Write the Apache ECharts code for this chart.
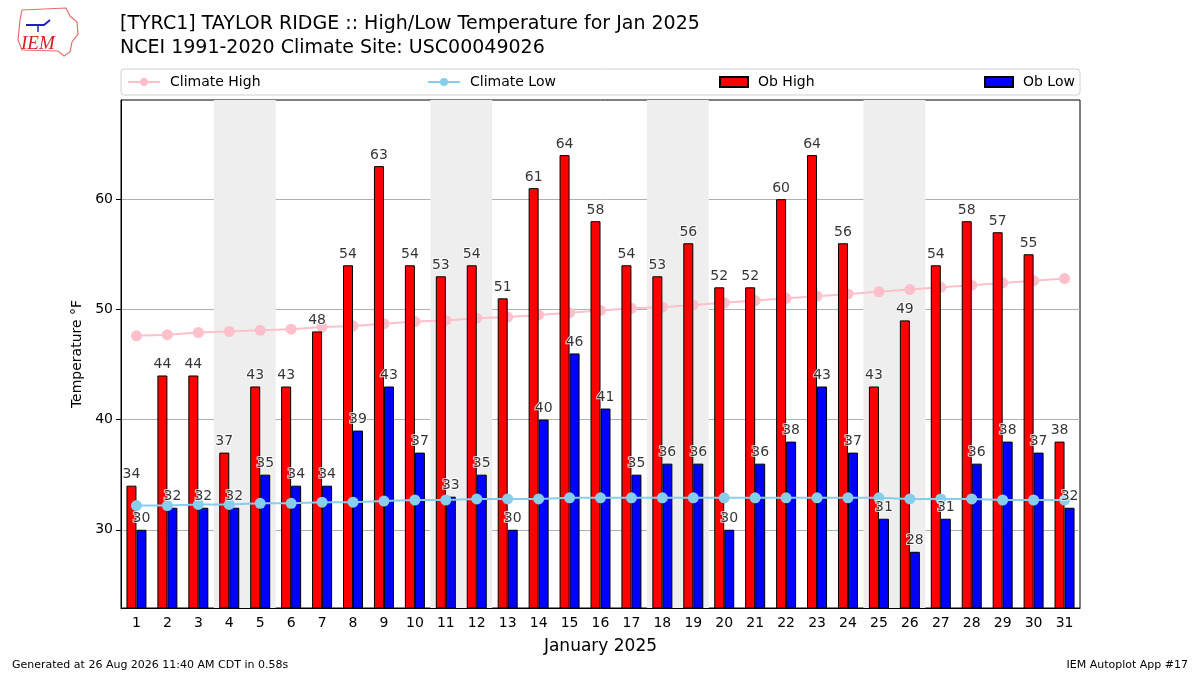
<!DOCTYPE html>
<html>
<head>
<meta charset="utf-8">
<script src="https://cdn.jsdelivr.net/npm/echarts@6/dist/echarts.min.js"></script>
<style>
  html, body { margin: 0; padding: 0; background: #fff; }
  #main { width: 1200px; height: 675px; }
</style>
</head>
<body>
<div id="main"></div>
<script>
var dom = document.getElementById("main");
var myChart = echarts.init(dom);

var days = ['1','2','3','4','5','6','7','8','9','10','11','12','13','14','15','16',
    '17','18','19','20','21','22','23','24','25','26','27','28','29','30','31'];
var obHigh = [34, 44, 44, 37, 43, 43, 48, 54, 63, 54, 53, 54, 51, 61, 64, 58,
    54, 53, 56, 52, 52, 60, 64, 56, 43, 49, 54, 58, 57, 55, 38];
var obLow = [30, 32, 32, 32, 35, 34, 34, 39, 43, 37, 33, 35, 30, 40, 46, 41,
    35, 36, 36, 30, 36, 38, 43, 37, 31, 28, 31, 36, 38, 37, 32];
var climHigh = [47.6, 47.7, 47.9, 48.0, 48.1, 48.2, 48.4, 48.5, 48.7, 48.9, 49.0, 49.2,
    49.3, 49.5, 49.7, 49.9, 50.1, 50.2, 50.4, 50.6, 50.8, 51.0, 51.2, 51.4, 51.6, 51.8,
    52.0, 52.2, 52.4, 52.6, 52.8];
var climLow = [32.2, 32.2, 32.3, 32.3, 32.4, 32.4, 32.5, 32.5, 32.6, 32.7, 32.7, 32.8,
    32.8, 32.8, 32.9, 32.9, 32.9, 32.9, 32.9, 32.9, 32.9, 32.9, 32.9, 32.9, 32.9, 32.8,
    32.8, 32.8, 32.7, 32.7, 32.7];
var yTicks = [30, 40, 50, 60];
var weekendStarts = [4, 11, 18, 25];   // saturdays

var FONT = 'DejaVu Sans';

var labelStyle = {
    show: true,
    position: 'top',
    fontFamily: FONT,
    fontSize: 14,
    color: '#000',
    textBorderColor: '#fff',
    textBorderWidth: 2
};

var legendText = { fontFamily: FONT, fontSize: 14, color: '#000', padding: [0, 0, 0, 5] };

option = {
    animation: false,
    backgroundColor: '#fff',
    textStyle: { fontFamily: FONT },
    title: [{
        text: '[TYRC1] TAYLOR RIDGE :: High/Low Temperature for Jan 2025\nNCEI 1991-2020 Climate Site: USC00049026',
        left: 120, top: 12, padding: 0,
        textStyle: { fontFamily: FONT, fontSize: 19, fontWeight: 'normal', color: '#000', lineHeight: 24 }
    }, {
        text: 'Generated at 26 Aug 2026 11:40 AM CDT in 0.58s',
        left: 12, top: 660, padding: 0,
        textStyle: { fontFamily: FONT, fontSize: 11, fontWeight: 'normal', color: '#000' }
    }, {
        text: 'IEM Autoplot App #17',
        right: 12, top: 660, padding: 0,
        textStyle: { fontFamily: FONT, fontSize: 11, fontWeight: 'normal', color: '#000' }
    }],
    graphic: [{
        type: 'rect', z: 0,
        shape: { x: 121, y: 69, width: 959, height: 26, r: 3 },
        style: { fill: '#fff', stroke: '#d0d0d0', lineWidth: 1 }
    }, {
        type: 'polyline',
        shape: { points: [[22, 10], [66, 8], [70, 16], [77, 22], [78, 34], [72, 42], [70, 52], [64, 56], [58, 51], [22, 50], [18, 40], [20, 20], [22, 10]] },
        style: { stroke: '#e07070', fill: 'none', lineWidth: 1.2 }
    }, {
        type: 'text',
        left: 21, top: 34,
        style: { text: 'IEM', fontFamily: 'Liberation Serif', fontStyle: 'italic', fontSize: 19, fill: '#d02020' }
    }, {
        type: 'polyline',
        shape: { points: [[26, 25], [44, 25], [50, 20]] },
        style: { stroke: '#2020c0', lineWidth: 2 }
    }, {
        type: 'polyline',
        shape: { points: [[38, 25], [38, 32]] },
        style: { stroke: '#2020c0', lineWidth: 1.5 }
    }],
    legend: [{
        data: ['Climate High'], left: 122, top: 70,
        itemWidth: 32, itemHeight: 10,
        textStyle: legendText
    }, {
        data: ['Climate Low'], left: 422, top: 70,
        itemWidth: 32, itemHeight: 10,
        textStyle: legendText
    }, {
        data: [{ name: 'Ob High', icon: 'rect' }], left: 714, top: 70,
        itemWidth: 28, itemHeight: 10,
        textStyle: legendText
    }, {
        data: [{ name: 'Ob Low', icon: 'rect' }], left: 979, top: 70,
        itemWidth: 28, itemHeight: 10,
        textStyle: legendText
    }],
    grid: {
        left: 121, right: 120, top: 100, bottom: 67,
        show: true, borderColor: '#000', borderWidth: 1, backgroundColor: 'transparent'
    },
    xAxis: [{
        type: 'category',
        data: days,
        name: 'January 2025',
        nameLocation: 'middle',
        nameGap: 30,
        nameTextStyle: { fontFamily: FONT, fontSize: 17, color: '#000' },
        axisLine: { lineStyle: { color: '#000' } },
        axisTick: { alignWithLabel: true, length: 5, lineStyle: { color: '#000' } },
        axisLabel: { fontFamily: FONT, fontSize: 14, color: '#000', margin: 8, interval: 0 },
        splitLine: { show: false }
    }, {
        type: 'value',
        min: 0.5, max: 31.5,
        show: false
    }],
    yAxis: {
        type: 'value',
        min: 22.9, max: 69,
        name: 'Temperature °F',
        nameLocation: 'middle',
        nameGap: 34,
        nameTextStyle: { fontFamily: FONT, fontSize: 14, color: '#000' },
        axisLine: { show: true, lineStyle: { color: '#000' } },
        axisTick: { show: true, length: 5, lineStyle: { color: '#000' }, customValues: yTicks },
        axisLabel: { fontFamily: FONT, fontSize: 14, color: '#000', margin: 8, customValues: yTicks },
        splitLine: { show: true, lineStyle: { color: '#b0b0b0', width: 1 } }
    },
    series: [{
        type: 'line',
        xAxisIndex: 1,
        data: [],
        silent: true,
        z: 0,
        markArea: {
            silent: true,
            itemStyle: { color: '#eeeeee' },
            data: weekendStarts.map(function (d) {
                return [{ xAxis: d - 0.5 }, { xAxis: d + 1.5 }];
            })
        }
    }, {
        name: 'Climate High',
        type: 'line',
        data: climHigh,
        z: 1,
        symbol: 'circle',
        symbolSize: 11,
        color: '#ffc0cb',
        lineStyle: { width: 2, color: '#ffc0cb' },
        itemStyle: { color: '#ffc0cb' }
    }, {
        name: 'Ob High',
        type: 'bar',
        data: obHigh,
        z: 2,
        barWidth: 10,
        barGap: '0%',
        itemStyle: { color: '#ff0000', borderColor: '#000', borderWidth: 1 }
    }, {
        name: 'Ob Low',
        type: 'bar',
        data: obLow,
        z: 2,
        barWidth: 10,
        barGap: '0%',
        itemStyle: { color: '#0000ff', borderColor: '#000', borderWidth: 1 }
    }, {
        name: 'Climate Low',
        type: 'line',
        data: climLow,
        z: 3,
        symbol: 'circle',
        symbolSize: 11,
        color: '#87ceeb',
        lineStyle: { width: 2, color: '#87ceeb' },
        itemStyle: { color: '#87ceeb' }
    }, {
        type: 'scatter',
        data: obHigh,
        z: 4,
        silent: true,
        symbolSize: 0,
        label: Object.assign({}, labelStyle, { offset: [-5, -2], distance: 2 })
    }, {
        type: 'scatter',
        data: obLow,
        z: 4,
        silent: true,
        symbolSize: 0,
        label: Object.assign({}, labelStyle, { offset: [5, -2], distance: 2 })
    }]
};

if (option && typeof option === "object") {
    myChart.setOption(option, true);
}
</script>
</body>
</html>
